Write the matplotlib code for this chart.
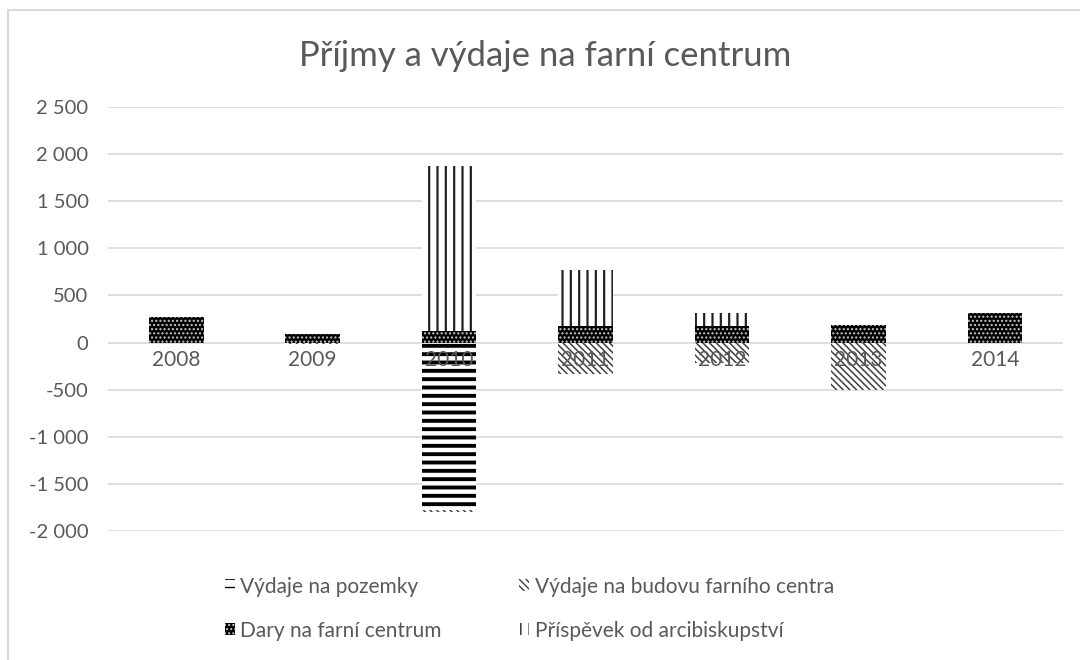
import numpy as np
import matplotlib.pyplot as plt
from matplotlib.patches import Rectangle, Patch

plt.rcParams['font.family'] = ['Lato', 'DejaVu Sans']

years = ['2008', '2009', '2010', '2011', '2012', '2013', '2014']
pozemky = [0, 0, -1780, 0, 0, 0, 0]
budova = [0, -20, -20, -330, -220, -500, -10]
dary = [270, 95, 120, 175, 175, 190, 310]
prispevek = [0, 0, 1755, 595, 140, 0, 0]

labels = ['Výdaje na pozemky', 'Výdaje na budovu farního centra',
          'Dary na farní centrum', 'Příspěvek od arcibiskupství']

grey = '#595959'
x = np.arange(len(years))
w = 0.4

fig = plt.figure(figsize=(10.8, 6.6), dpi=100)
ax = fig.add_axes([108/1080, 1-531/660, (1063-108)/1080, (531-107)/660])

def setlw(bars, lw):
    for b in bars:
        try:
            b.set_hatch_linewidth(lw)
        except AttributeError:
            pass

b1 = ax.bar(x, pozemky, w, color='white', edgecolor='black', hatch='--', linewidth=0, zorder=3)
setlw(b1, 2.8)
b2 = ax.bar(x, budova, w, bottom=pozemky, color='white', edgecolor='#404040', hatch='\\\\\\\\\\', linewidth=0, zorder=3)
setlw(b2, 1.1)
b3 = ax.bar(x, dary, w, color='black', edgecolor='#c8c8c8', hatch='....', linewidth=0, zorder=3)
setlw(b3, 1.0)
b4 = ax.bar(x, prispevek, w, bottom=dary, color='white', edgecolor='#222222', hatch='||', linewidth=0, zorder=3)
setlw(b4, 1.6)

ax.set_xlim(-0.5, len(years) - 0.5)
ax.set_ylim(-2000, 2500)
ticks = np.arange(-2000, 2501, 500)
ax.set_yticks(ticks)
ax.set_yticklabels([('-' if t < 0 else '') + format(abs(t), ',').replace(',', ' ') for t in ticks],
                   color=grey, fontsize=14.5)
ax.tick_params(axis='y', length=0, pad=14)
ax.set_xticks([])
ax.grid(axis='y', color='#d9d9d9', linewidth=1.2, zorder=0)
for s in ax.spines.values():
    s.set_visible(False)

for i, y in enumerate(years):
    ax.annotate(y, (i, 0), xytext=(0, -5), textcoords='offset points',
                ha='center', va='top', color=grey, fontsize=15, zorder=5)

fig.text(545/1080, 1-56/660, 'Příjmy a výdaje na farní centrum', ha='center', va='center',
         color=grey, fontsize=25)

handles = [Patch(facecolor='white', edgecolor='black', hatch='--', linewidth=0),
           Patch(facecolor='black', edgecolor='#c8c8c8', hatch='....', linewidth=0),
           Patch(facecolor='white', edgecolor='#404040', hatch='\\\\\\\\\\', linewidth=0),
           Patch(facecolor='white', edgecolor='#222222', hatch='||', linewidth=0)]
leg = fig.legend(handles, [labels[0], labels[2], labels[1], labels[3]], ncol=2,
                 loc='upper left', bbox_to_anchor=(206/1080, 1-558/660), frameon=False,
                 fontsize=15, labelcolor=grey, handlelength=0.5, handleheight=0.5,
                 handletextpad=0.25, columnspacing=3.7, labelspacing=1.15)

fig.patches.append(Rectangle((8/1080, -0.1), 1.2, 1.1 - 10/660, transform=fig.transFigure,
                             facecolor='none', edgecolor='#d9d9d9', linewidth=1.5))

fig.savefig('out.png', dpi=100)
